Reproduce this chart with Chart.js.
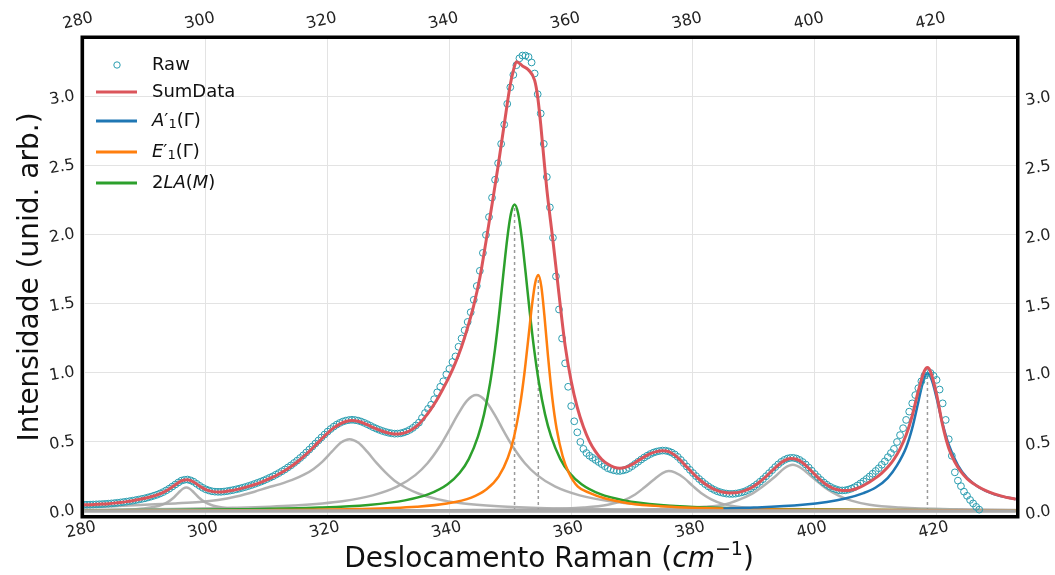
<!DOCTYPE html>
<html><head><meta charset="utf-8">
<script src="https://cdn.jsdelivr.net/npm/chart.js@4.4.1/dist/chart.umd.min.js"></script>
<style>html,body{margin:0;padding:0;background:#fff;}canvas{display:block;}</style>
</head><body>
<canvas id="c" width="1055" height="575"></canvas>
<script>
// ---------- tick labels ----------
const xTickVals = [280, 300, 320, 340, 360, 380, 400, 420];
const xTickLabels = ['280', '300', '320', '340', '360', '380', '400', '420'];
const yTickVals = [0, 0.5, 1.0, 1.5, 2.0, 2.5, 3.0];
const yTickLabels = ['0.0', '0.5', '1.0', '1.5', '2.0', '2.5', '3.0'];

// ---------- Raw (measured points) ----------
const rawX = [280,280.5,281,281.5,282,282.5,283,283.5,284,284.5,285,285.5,286,286.5,287,287.5,288,288.5,289,289.5,
290,290.5,291,291.5,292,292.5,293,293.5,294,294.5,295,295.5,296,296.5,297,297.5,298,298.5,299,299.5,
300,300.5,301,301.5,302,302.5,303,303.5,304,304.5,305,305.5,306,306.5,307,307.5,308,308.5,309,309.5,
310,310.5,311,311.5,312,312.5,313,313.5,314,314.5,315,315.5,316,316.5,317,317.5,318,318.5,319,319.5,
320,320.5,321,321.5,322,322.5,323,323.5,324,324.5,325,325.5,326,326.5,327,327.5,328,328.5,329,329.5,
330,330.5,331,331.5,332,332.5,333,333.5,334,334.5,335,335.5,
336,336.5,337,337.5,338,338.5,339,339.5,340,340.5,341,341.5,342,342.5,343,343.5,344,344.5,345,345.5,
346,346.5,347,347.5,348,348.5,349,349.5,350,350.5,351,351.5,352,352.5,353,353.5,354,354.5,355,355.5,
356,356.5,357,357.5,358,358.5,359,359.5,360,360.5,361,361.5,362,362.5,363,363.5,364,364.5,365,365.5,366,
366.5,367,367.5,368,368.5,369,369.5,370,370.5,371,371.5,372,372.5,373,373.5,374,374.5,375,375.5,376,
376.5,377,377.5,378,378.5,379,379.5,380,380.5,381,381.5,382,382.5,383,383.5,384,384.5,385,385.5,386,
386.5,387,387.5,388,388.5,389,389.5,390,390.5,391,391.5,392,392.5,393,393.5,394,394.5,395,395.5,396,
396.5,397,397.5,398,398.5,399,399.5,400,400.5,401,401.5,402,402.5,403,403.5,404,404.5,405,
405.5,406,406.5,407,407.5,408,408.5,409,409.5,410,410.5,411,411.5,412,412.5,413,413.5,414,414.5,415,
415.5,416,416.5,417,417.5,418,418.5,419,419.5,420,420.5,421,421.5,422,422.5,423,423.5,424,424.5,425,
425.5,426,426.5,427];
const rawY = [0.045,0.0455,0.046,0.047,0.048,0.049,0.05,0.0515,0.053,0.055,0.057,0.0595,0.062,0.065,0.068,0.0715,0.075,0.079,0.083,0.0875,
0.092,0.098,0.104,0.111,0.118,0.127,0.137,0.149,0.162,0.177,0.192,0.207,0.22,0.226,0.228,0.222,0.212,0.197,0.182,0.168,
0.157,0.149,0.143,0.14,0.139,0.139,0.141,0.144,0.148,0.152,0.157,0.162,0.168,0.174,0.181,0.188,0.196,0.204,0.212,0.221,
0.231,0.241,0.251,0.263,0.275,0.288,0.301,0.316,0.331,0.348,0.365,0.384,0.403,0.424,0.445,0.467,0.489,0.511,0.533,0.554,
0.575,0.594,0.611,0.626,0.638,0.648,0.655,0.659,0.661,0.659,0.655,0.648,0.639,0.629,0.618,0.607,0.597,0.588,0.58,0.573,
0.567,0.563,0.56,0.561,0.563,0.569,0.577,0.588,0.602,0.62,0.64,0.674,
0.71,0.74,0.77,0.81,0.86,0.90,0.94,0.99,1.03,1.08,1.12,1.19,1.25,1.31,1.37,1.44,1.53,1.63,1.74,1.87,
2.00,2.13,2.27,2.40,2.52,2.66,2.80,2.95,3.07,3.16,3.23,3.28,3.30,3.30,3.29,3.25,3.17,3.02,2.88,2.66,
2.42,2.20,1.98,1.70,1.46,1.25,1.07,0.90,0.76,0.65,0.57,0.50,0.45,0.42,0.40,0.385,0.37,0.355,0.34,0.325,0.31,
0.302,0.295,0.291,0.29,0.294,0.30,0.311,0.325,0.341,0.357,0.373,0.388,0.401,0.413,0.423,0.43,0.435,0.438,0.437,0.432,
0.423,0.41,0.392,0.37,0.347,0.322,0.298,0.275,0.253,0.232,0.213,0.195,0.179,0.165,0.153,0.143,0.136,0.13,0.126,0.124,
0.124,0.126,0.13,0.135,0.142,0.152,0.164,0.178,0.194,0.212,0.231,0.252,0.274,0.296,0.318,0.338,0.356,0.37,0.38,0.385,
0.385,0.38,0.37,0.355,0.337,0.315,0.292,0.268,0.246,0.225,0.206,0.19,0.176,0.165,0.157,0.15,0.149,0.15,
0.155,0.162,0.172,0.185,0.2,0.215,0.232,0.25,0.27,0.29,0.31,0.335,0.36,0.39,0.42,0.45,0.50,0.55,0.60,0.66,
0.72,0.78,0.84,0.89,0.94,0.98,1.00,1.00,0.98,0.95,0.88,0.78,0.66,0.52,0.40,0.28,0.22,0.18,0.14,0.11,
0.08,0.055,0.03,0.01];

// ---------- SumData ----------
const sumX = [280,281,282,283,284,285,286,287,288,289,290,291,292,293,294,295,296,297,298,299,
300,301,302,303,304,305,306,307,308,309,310,311,312,313,314,315,316,317,318,319,
320,321,322,323,324,325,326,327,328,329,330,331,332,333,334,335,336,337,338,339,
340,341,342,343,344,345,346,347,348,349,350,350.5,351,352,353,354,354.5,355,355.5,356,
357,358,359,360,361,362,363,364,365,366,367,368,369,370,371,372,373,374,375,376,
377,378,379,380,381,382,383,384,385,386,387,388,389,390,391,392,393,394,395,396,
397,398,399,400,401,402,403,404,405,406,407,408,409,410,411,412,413,414,415,416,
417,418,418.5,419,420,421,422,423,424,425,426,427,428,429,430,431,432,433];
const sumY = [0.045,0.046,0.048,0.050,0.053,0.057,0.062,0.068,0.075,0.083,0.092,0.103,0.117,0.135,0.160,0.190,0.218,0.226,0.210,0.180,
0.155,0.142,0.138,0.140,0.146,0.155,0.166,0.178,0.192,0.208,0.226,0.245,0.268,0.293,0.322,0.355,0.392,0.433,0.477,0.522,
0.565,0.602,0.630,0.648,0.655,0.650,0.635,0.615,0.595,0.578,0.565,0.558,0.560,0.572,0.595,0.630,0.680,0.740,0.810,0.890,
0.975,1.075,1.190,1.330,1.490,1.690,1.950,2.220,2.500,2.800,3.090,3.190,3.255,3.225,3.195,3.120,3.000,2.800,2.560,2.330,
1.960,1.570,1.200,0.940,0.750,0.610,0.505,0.430,0.375,0.340,0.318,0.310,0.318,0.338,0.365,0.392,0.415,0.430,0.436,0.430,
0.405,0.365,0.318,0.272,0.230,0.196,0.168,0.148,0.136,0.131,0.132,0.140,0.156,0.180,0.212,0.250,0.292,0.333,0.365,0.380,
0.375,0.350,0.310,0.265,0.222,0.188,0.164,0.152,0.148,0.152,0.165,0.185,0.210,0.240,0.275,0.318,0.375,0.450,0.550,0.690,
0.870,1.015,1.040,1.010,0.845,0.620,0.455,0.355,0.285,0.235,0.200,0.172,0.150,0.132,0.117,0.104,0.094,0.086];

// ---------- A'1(Γ) (blue) ----------
const blueX = [385,390,398,402,405,408,410,412,413.5,415,416,417,417.8,418.5,419.2,420,421,422,423.5,425,427,429.5,433];
const blueY = [0.018,0.025,0.045,0.065,0.09,0.13,0.17,0.24,0.33,0.46,0.6,0.79,0.94,1.0,0.95,0.82,0.63,0.48,0.33,0.24,0.17,0.12,0.085];

// ---------- E'1(Γ) (orange) ----------
const orangeX = [280,309.6,324.6,334.6,339.6,343.6,346.1,348.1,349.6,350.6,351.6,352.3,353,353.6,354.1,354.6,
355.1,355.6,356.2,356.9,357.6,358.6,359.6,361.1,363.1,365.6,369.6,374.6,384.6,399.6,433];
const orangeY = [0.0023,0.006,0.014,0.031,0.054,0.097,0.157,0.251,0.386,0.535,0.765,0.991,1.266,1.504,1.654,1.71,
1.626,1.417,1.118,0.817,0.598,0.397,0.277,0.176,0.13,0.09,0.055,0.035,0.018,0.009,0.004];

// ---------- 2LA(M) (green) ----------
const greenX = [280,290,305.7,318.7,326.7,332.7,336.7,339.7,341.7,343.2,344.7,345.7,346.7,347.5,348.2,348.9,349.5,350.1,
350.7,351.3,351.9,352.5,353.2,353.9,354.7,355.7,356.7,358.2,359.7,361.7,364.7,368.7,374.7,382.7,395.7,410.7,433];
const greenY = [0.005,0.007,0.0126,0.025,0.044,0.077,0.124,0.194,0.277,0.378,0.54,0.702,0.931,1.177,1.44,1.734,1.974,2.153,
2.22,2.153,1.974,1.734,1.44,1.177,0.931,0.702,0.54,0.378,0.277,0.194,0.124,0.077,0.044,0.025,0.0126,0.0071,0.0038];

// ---------- other fitted bands (grey) ----------
const g1X = [280,282.8,286.8,289.8,291.8,292.8,293.8,294.8,295.3,295.8,296.3,296.8,297.3,297.8,298.3,298.8,299.8,300.8,301.8,303.8,306.8,310.8,320,350,433];
const g1Y = [0.0035,0.005,0.009,0.018,0.032,0.045,0.066,0.100,0.122,0.145,0.163,0.170,0.163,0.145,0.122,0.100,0.066,0.045,0.032,0.018,0.009,0.005,0.002,0.0005,0];
const g3X = [280,285,290,295,299,302,305,308,310.2,312.2,314.2,316.2,317.7,319.2,320.7,322.2,323.6,325,326.5,328,329.5,331,333,335,338,342,348,356,370,390,433];
const g3Y = [0.03,0.035,0.045,0.055,0.065,0.08,0.105,0.14,0.17,0.195,0.225,0.265,0.305,0.36,0.43,0.496,0.52,0.496,0.43,0.35,0.28,0.22,0.165,0.125,0.086,0.056,0.034,0.02,0.01,0.005,0.002];
const g4X = [280,290,304.4,314.4,322.4,327.4,331.4,334.4,336.4,338.4,339.9,341.4,342.9,344.4,345.9,347.4,348.9,350.4,352.4,354.4,357.4,361.4,366.4,374.4,384.4,399.4,415,433];
const g4Y = [0.009,0.012,0.023,0.04,0.071,0.113,0.176,0.26,0.346,0.467,0.58,0.70,0.80,0.84,0.80,0.70,0.58,0.467,0.346,0.26,0.176,0.113,0.071,0.04,0.023,0.012,0.008,0.005];
const g5X = [280,340,355,362,366,368.5,370.5,372,373.5,375,376,377,378.5,380,381.5,383,385,388,395,410,433];
const g5Y = [0.001,0.006,0.012,0.025,0.045,0.075,0.12,0.17,0.225,0.275,0.29,0.28,0.24,0.18,0.125,0.085,0.05,0.028,0.012,0.005,0.002];
const g6X = [280,360,375,382,385,387.5,389.5,391.5,393.5,395,396.4,397.8,399.3,400.8,402.3,404,406,409,414,424,433];
const g6Y = [0.001,0.008,0.015,0.03,0.045,0.08,0.12,0.18,0.25,0.31,0.335,0.31,0.255,0.2,0.15,0.11,0.075,0.045,0.025,0.012,0.008];
const baseX = [280, 433];
const baseY = [0, 0];

// ---------- dashed peak markers ----------
const markX = [350.7, 354.6, 418.5];
const markTop = [2.22, 1.71, 1.0];

const pts = (xs, ys) => xs.map((x, i) => ({x: x, y: ys[i]}));
const GREY = 'rgba(170,170,170,0.9)';
const SUMC = '#db555b';
const RAWC = '#2a9db0';
const lineDs = (data, color, w, order) => ({data, borderColor: color, borderWidth: w, pointRadius: 0,
  cubicInterpolationMode: 'monotone', fill: false, order});

const datasets = [
  lineDs(pts(baseX, baseY), '#a9a9a9', 3.5, 12.5),
  lineDs(pts(g1X, g1Y), GREY, 2.5, 20),
  lineDs(pts(g3X, g3Y), GREY, 2.5, 20),
  lineDs(pts(g4X, g4Y), GREY, 2.5, 20),
  lineDs(pts(g5X, g5Y), GREY, 2.5, 20),
  lineDs(pts(g6X, g6Y), GREY, 2.5, 20)
];
markX.forEach((x, i) => datasets.push({data: [{x: x, y: 0}, {x: x, y: markTop[i]}], borderColor: '#9a9a9a',
  borderWidth: 1.5, borderDash: [3, 3], pointRadius: 0, order: 19}));
datasets.push(lineDs(pts(greenX, greenY), '#2ca02c', 2.5, 15));
datasets.push(lineDs(pts(orangeX, orangeY), '#ff7f0e', 2.5, 14));
datasets.push(lineDs(pts(blueX, blueY), '#1f77b4', 2.5, 13));
datasets.push({data: pts(rawX, rawY), showLine: false, pointRadius: 3.4, pointStyle: 'circle',
  pointBorderColor: RAWC, pointBackgroundColor: 'rgba(0,0,0,0)', pointBorderWidth: 1, order: 12});
datasets.push(lineDs(pts(sumX, sumY), SUMC, 3, 11));

const FONT = '"DejaVu Sans"';
function rot(ctx, t, x, y, a) { ctx.save(); ctx.translate(x, y); ctx.rotate(a); ctx.fillText(t, 0, 0); ctx.restore(); }
function segWidth(ctx, segs) { let w = 0; segs.forEach(s => { ctx.font = (s.it ? 'italic ' : '') + s.size + 'px ' + FONT; w += ctx.measureText(s.t).width; }); return w; }
function rich(ctx, segs, x, y) {
  let cx = x;
  segs.forEach(s => { ctx.font = (s.it ? 'italic ' : '') + s.size + 'px ' + FONT; ctx.fillText(s.t, cx, y + (s.dy || 0)); cx += ctx.measureText(s.t).width; });
}

const deco = {
  id: 'deco',
  afterDraw(chart) {
    const ctx = chart.ctx, ca = chart.chartArea;
    const sx = chart.scales.x, sy = chart.scales.y;
    ctx.save();
    // frame
    ctx.strokeStyle = '#000'; ctx.lineWidth = 3.5;
    ctx.strokeRect(ca.left - 1.75, ca.top - 1.75, ca.right - ca.left + 3.5, ca.bottom - ca.top + 3.5);
    // tick labels
    ctx.fillStyle = '#222'; ctx.textAlign = 'center'; ctx.textBaseline = 'middle';
    ctx.font = '16px ' + FONT;
    xTickVals.forEach((v, i) => {
      const px = sx.getPixelForValue(v);
      rot(ctx, xTickLabels[i], px - 3, 530, -0.22);
      rot(ctx, xTickLabels[i], px - 6, 21, -0.22);
    });
    yTickVals.forEach((v, i) => {
      const py = sy.getPixelForValue(v);
      rot(ctx, yTickLabels[i], 62, py + 1, -0.17);
      rot(ctx, yTickLabels[i], 1038, py + 2, -0.17);
    });
    // axis titles
    ctx.fillStyle = '#111'; ctx.textAlign = 'left'; ctx.textBaseline = 'alphabetic';
    const xt = [{t: 'Deslocamento Raman (', size: 28}, {t: 'cm', size: 28, it: true}, {t: '\u22121', size: 19, dy: -12}, {t: ')', size: 28}];
    const w = segWidth(ctx, xt);
    rich(ctx, xt, 549 - w / 2, 567);
    ctx.save(); ctx.translate(38, 277); ctx.rotate(-Math.PI / 2);
    ctx.font = '28px ' + FONT; ctx.textAlign = 'center'; ctx.fillText('Intensidade (unid. arb.)', 0, 0);
    ctx.restore();
    // legend
    const L = [
      {kind: 'pt', color: RAWC, y: 65, segs: [{t: 'Raw', size: 18}]},
      {kind: 'ln', color: SUMC, y: 92, segs: [{t: 'SumData', size: 18}]},
      {kind: 'ln', color: '#1f77b4', y: 121, segs: [{t: 'A', size: 18, it: true}, {t: '\u2032', size: 18}, {t: '1', size: 13, dy: 4}, {t: '(\u0393)', size: 18}]},
      {kind: 'ln', color: '#ff7f0e', y: 152, segs: [{t: 'E', size: 18, it: true}, {t: '\u2032', size: 18}, {t: '1', size: 13, dy: 4}, {t: '(\u0393)', size: 18}]},
      {kind: 'ln', color: '#2ca02c', y: 183, segs: [{t: '2', size: 18}, {t: 'LA', size: 18, it: true}, {t: '(', size: 18}, {t: 'M', size: 18, it: true}, {t: ')', size: 18}]}
    ];
    ctx.textBaseline = 'middle';
    L.forEach(e => {
      if (e.kind === 'pt') {
        ctx.beginPath(); ctx.arc(117, e.y, 3.2, 0, Math.PI * 2); ctx.strokeStyle = e.color; ctx.lineWidth = 1; ctx.stroke();
      } else {
        ctx.beginPath(); ctx.moveTo(96, e.y); ctx.lineTo(137, e.y); ctx.strokeStyle = e.color; ctx.lineWidth = 3; ctx.stroke();
      }
      ctx.fillStyle = '#111';
      rich(ctx, e.segs, 152, e.y);
    });
    ctx.restore();
  }
};

const tickSetter = vals => (s => { s.ticks = vals.map(v => ({value: v})); });
new Chart(document.getElementById('c'), {
  type: 'line',
  data: {datasets},
  options: {
    responsive: false, animation: false, devicePixelRatio: 1, events: [],
    layout: {padding: 0},
    plugins: {legend: {display: false}, tooltip: {enabled: false}},
    scales: {
      x: {type: 'linear', position: 'bottom', min: 280, max: 433.04,
          afterBuildTicks: tickSetter(xTickVals), ticks: {display: false},
          grid: {color: '#e3e3e3', lineWidth: 1, drawTicks: false}, border: {display: false},
          afterFit: s => { s.height = 60; }},
      xTop: {type: 'linear', position: 'top', min: 280, max: 433.04,
          afterBuildTicks: tickSetter(xTickVals), ticks: {display: false},
          grid: {display: false, drawTicks: false}, border: {display: false},
          afterFit: s => { s.height = 39; }},
      y: {type: 'linear', position: 'left', min: -0.029, max: 3.42,
          afterBuildTicks: tickSetter(yTickVals), ticks: {display: false},
          grid: {color: '#e3e3e3', lineWidth: 1, drawTicks: false}, border: {display: false},
          afterFit: s => { s.width = 84; }},
      yRight: {type: 'linear', position: 'right', min: -0.029, max: 3.42,
          afterBuildTicks: tickSetter(yTickVals), ticks: {display: false},
          grid: {display: false, drawTicks: false}, border: {display: false},
          afterFit: s => { s.width = 39; }}
    }
  },
  plugins: [deco]
});
</script>
</body></html>
